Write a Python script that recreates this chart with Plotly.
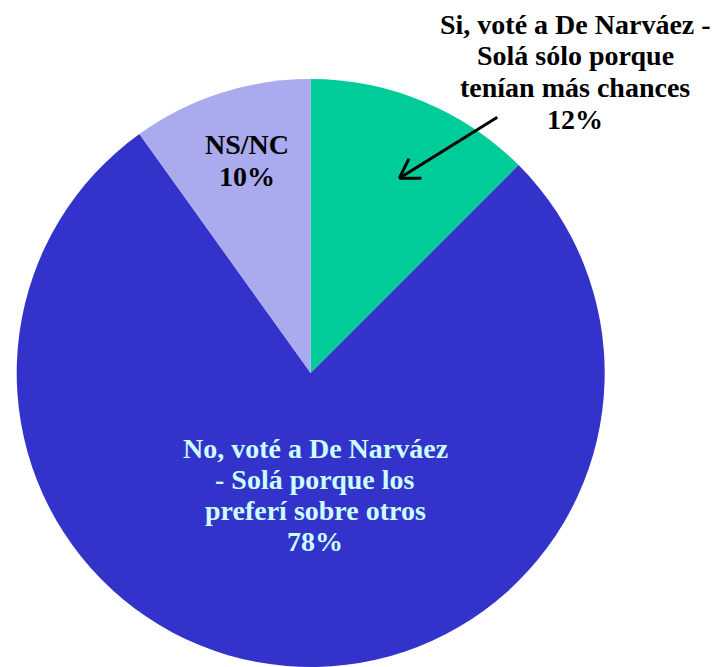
import math
import plotly.graph_objects as go

labels = ["Si, voté a De Narváez -<br>Solá sólo porque<br>tenían más chances",
          "No, voté a De Narváez<br>- Solá porque los<br>preferí sobre otros",
          "NS/NC"]
values = [12.5, 77.6, 9.9]          # slice shares as drawn
pct_labels = ["12%", "78%", "10%"]  # percentages printed on the chart
colors = ["#00CC99", "#3333CC", "#AAAAEE"]
text_colors = ["#000000", "#CCFFFF", "#000000"]

W, H = 715, 667
fig = go.Figure(go.Pie(
    labels=labels, values=values, sort=False, direction="clockwise", rotation=0,
    marker=dict(colors=colors, line=dict(width=0)),
    textinfo="none", hoverinfo="label+percent", showlegend=False,
    domain=dict(x=[16.7 / W, 604.7 / W], y=[0, 1 - 79 / H]),
))

# label block: (center x, y of first line center) in pixels, line step
label_pos = [(575, 24, 31.8), (315, 448, 31.3), (247, 145, 31)]
serif = "Times New Roman, Liberation Serif, DejaVu Serif, serif"
for lab, p, tc, (px, py, step) in zip(labels, pct_labels, text_colors, label_pos):
    lines = lab.split("<br>") + [p]
    for i, line in enumerate(lines):
        fig.add_annotation(
            x=px / W, y=1 - (py + i * step) / H, xref="paper", yref="paper",
            text=f"<b>{line}</b>", showarrow=False,
            font=dict(family=serif, size=28, color=tc), align="center",
            xanchor="center", yanchor="middle",
        )

# callout arrow (open V head) pointing to the green slice
tail = (497.3, 117.3)
tip = (399.3, 178.3)
def px2paper(pt):
    return pt[0] / W, 1 - pt[1] / H

segments = [(tail, tip)]
ang = math.atan2(tail[1] - tip[1], tail[0] - tip[0])
for d in (math.radians(32), -math.radians(32)):
    a = ang + d
    segments.append((tip, (tip[0] + 22 * math.cos(a), tip[1] + 22 * math.sin(a))))
for p0, p1 in segments:
    x0, y0 = px2paper(p0)
    x1, y1 = px2paper(p1)
    fig.add_shape(type="line", xref="paper", yref="paper", x0=x0, y0=y0, x1=x1, y1=y1,
                  line=dict(color="#000000", width=3))

fig.update_layout(
    width=W, height=H, margin=dict(l=0, r=0, t=0, b=0),
    paper_bgcolor="white", plot_bgcolor="white",
    font=dict(family=serif),
)
fig.write_html("out.html", config=dict(displayModeBar=False),
               post_script="document.body.style.margin='0';document.body.style.padding='0';")
